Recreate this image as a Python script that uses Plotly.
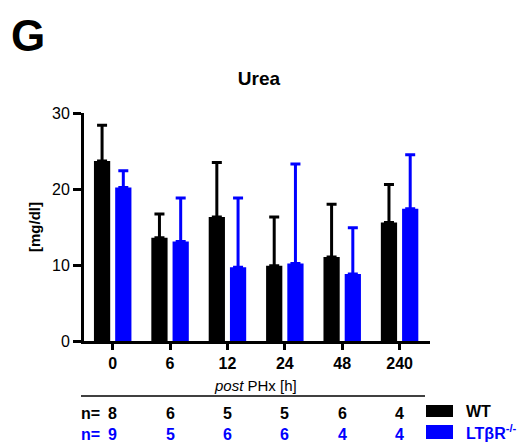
import plotly.graph_objects as go

categories = ["0", "6", "12", "24", "48", "240"]
wt_mean = [23.7, 13.6, 16.3, 9.9, 11.05, 15.6]
wt_sd = [4.7, 3.1, 7.2, 6.4, 6.95, 5.0]
ko_mean = [20.2, 13.1, 9.7, 10.2, 8.8, 17.4]
ko_sd = [2.2, 5.7, 9.1, 13.1, 6.1, 7.1]
n_wt = [8, 6, 5, 5, 6, 4]
n_ko = [9, 5, 6, 6, 4, 4]
y_ticks = [0, 10, 20, 30]

BLUE = "#0000ff"
FONT = "Liberation Sans, Arial, sans-serif"

fig = go.Figure()
for name, mean, sd, col in [("WT", wt_mean, wt_sd, "black"),
                            ("LTβR<sup>-/-</sup>", ko_mean, ko_sd, BLUE)]:
    fig.add_trace(go.Bar(
        x=categories, y=mean, name=name, marker=dict(color=col, line=dict(width=0)),
        error_y=dict(type="data", array=sd, arrayminus=[0] * len(sd), symmetric=False,
                     color=col, thickness=3, width=5),
        showlegend=False))

W, H = 521, 443
L, R, T, B = 84, 91, 113, 102
pw, ph = W - L - R, H - T - B

def px(x):
    return (x - L) / pw

def py(y):
    return (H - B - y) / ph

fig.update_layout(
    width=W, height=H, margin=dict(l=L, r=R, t=T, b=B),
    paper_bgcolor="white", plot_bgcolor="white",
    barmode="group", bargap=0.26, bargroupgap=0.235,
    font=dict(family=FONT, color="black"),
    title=dict(text="<b>Urea</b>", x=px(256), xanchor="center", y=1 - 78 / H, yanchor="middle",
               font=dict(size=19, family=FONT, color="black")),
    xaxis=dict(range=[-0.5, 5.53], showline=True, linewidth=3, linecolor="black",
               ticks="outside", ticklen=6, tickwidth=3, tickcolor="black",
               tickfont=dict(size=16, family=FONT, color="black"), showgrid=False,
               zeroline=False, tickprefix="<b>", ticksuffix="</b>"),
    yaxis=dict(range=[0, 30], tickvals=y_ticks, showline=True, linewidth=3, linecolor="black",
               ticks="outside", ticklen=8, tickwidth=3, tickcolor="black",
               tickfont=dict(size=16, family=FONT, color="black"), showgrid=False,
               zeroline=False, tickprefix="<b>", ticksuffix="</b>",
               title=dict(text="<b>[mg/dl]</b>", font=dict(size=15, family=FONT, color="black"),
                          standoff=8)),
)

ann = []
ann.append(dict(text="<b>G</b>", x=px(9), y=py(35), xref="paper", yref="paper",
                xanchor="left", yanchor="middle", showarrow=False,
                font=dict(size=44, family=FONT, color="black")))
ann.append(dict(text="<i>post</i> PHx [h]", x=px(255), y=py(385), xref="paper", yref="paper",
                xanchor="center", yanchor="middle", showarrow=False,
                font=dict(size=15, family=FONT, color="black")))
for row_y, vals, col in [(413, n_wt, "black"), (434, n_ko, BLUE)]:
    ann.append(dict(text="<b>n=</b>", x=px(79), y=py(row_y), xref="paper", yref="paper",
                    xanchor="left", yanchor="middle", showarrow=False,
                    font=dict(size=16, family=FONT, color=col)))
    for i, v in enumerate(vals):
        ann.append(dict(text=f"<b>{v}</b>", x=i, y=py(row_y), xref="x", yref="paper",
                        xanchor="center", yanchor="middle", showarrow=False,
                        font=dict(size=16, family=FONT, color=col)))
for row_y, label, col in [(411, "<b>WT</b>", "black"), (432, "<b>LTβR<sup>-/-</sup></b>", BLUE)]:
    ann.append(dict(text=label, x=px(464), y=py(row_y), xref="paper", yref="paper",
                    xanchor="left", yanchor="middle", showarrow=False,
                    font=dict(size=16, family=FONT, color=col)))
fig.update_layout(annotations=ann)

shapes = [
    dict(type="line", xref="paper", yref="paper", x0=px(81), x1=px(425), y0=py(396), y1=py(396),
         line=dict(color="black", width=1.5)),
    dict(type="rect", xref="paper", yref="paper", x0=px(426), x1=px(453), y0=py(405), y1=py(417),
         fillcolor="black", line=dict(width=0)),
    dict(type="rect", xref="paper", yref="paper", x0=px(426), x1=px(453), y0=py(425), y1=py(439),
         fillcolor=BLUE, line=dict(width=0)),
]
fig.update_layout(shapes=shapes)

fig.write_html("out.html")
